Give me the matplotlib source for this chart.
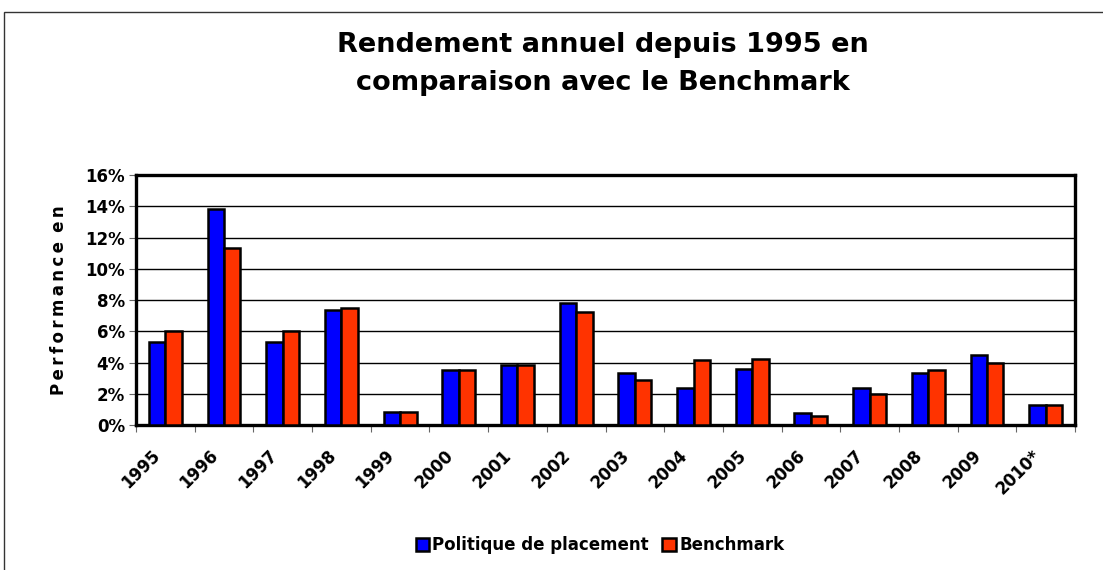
import numpy as np
import matplotlib
matplotlib.use("Agg")
import matplotlib.pyplot as plt
from matplotlib.patches import Rectangle

annees = ["1995", "1996", "1997", "1998", "1999", "2000", "2001", "2002",
          "2003", "2004", "2005", "2006", "2007", "2008", "2009", "2010*"]
politique = [5.3, 13.8, 5.3, 7.35, 0.85, 3.5, 3.85, 7.8,
             3.3, 2.4, 3.6, 0.75, 2.4, 3.3, 4.5, 1.3]
benchmark = [6.0, 11.3, 6.0, 7.5, 0.85, 3.5, 3.85, 7.25,
             2.9, 4.15, 4.25, 0.55, 2.0, 3.5, 3.95, 1.3]

fig = plt.figure(figsize=(11.03, 5.70), dpi=100)
W, H = 1103, 570
ax = fig.add_axes([136 / W, 1 - 425 / H, (1075 - 136) / W, (425 - 175) / H])

# cadre exterieur
fig.patches.append(Rectangle((4 / W, -0.1), 1.2, 1 - 12 / H + 0.1, transform=fig.transFigure,
                             fill=False, edgecolor="#333333", linewidth=1.0))

x = np.arange(len(annees))
w = 0.28
ax.bar(x - w / 2, politique, w, color="#0000FF", edgecolor="black", linewidth=1.8,
       label="Politique de placement", zorder=3)
ax.bar(x + w / 2, benchmark, w, color="#FF3300", edgecolor="black", linewidth=1.8,
       label="Benchmark", zorder=3)

ax.set_xlim(-0.5, len(annees) - 0.5)
ax.set_ylim(0, 16)
ax.set_yticks(range(0, 17, 2))
ax.set_yticklabels([f"{v}%" for v in range(0, 17, 2)], fontsize=12, fontweight="bold")
ax.yaxis.grid(True, color="black", linewidth=1.0, zorder=0)
ax.set_axisbelow(True)

# etiquettes des annees, inclinees
ax.set_xticks(np.arange(-0.5, len(annees)))
ax.set_xticklabels([])
ax.tick_params(axis="x", length=5, color="#666666")
for xi, lab in zip(x, annees):
    ax.annotate(lab, xy=(xi, 0), xycoords=("data", "axes fraction"),
                xytext=(-6, -20), textcoords="offset points", rotation=45,
                ha="right", va="center", rotation_mode="anchor",
                fontsize=12, fontweight="bold", annotation_clip=False)
ax.tick_params(axis="y", length=5, color="#666666", pad=3)

for s in ax.spines.values():
    s.set_linewidth(2.4)
    s.set_color("black")

ax.set_ylabel("\u2009".join("Performance") + "\u2009 " + "e\u2009n",
              fontsize=12, fontweight="bold", labelpad=12)

fig.text(0.547, 1 - 45 / H, "Rendement annuel depuis 1995 en", ha="center", va="center",
         fontsize=19.5, fontweight="bold")
fig.text(0.547, 1 - 83 / H, "comparaison avec le Benchmark", ha="center", va="center",
         fontsize=19.5, fontweight="bold")

fig.legend(loc="center", bbox_to_anchor=(600 / W, 1 - 545 / H), ncol=2, frameon=False,
           prop={"weight": "bold", "size": 12}, handlelength=0.8, handleheight=0.8,
           handletextpad=0.2, columnspacing=0.8)

fig.savefig("out.png", dpi=100)
